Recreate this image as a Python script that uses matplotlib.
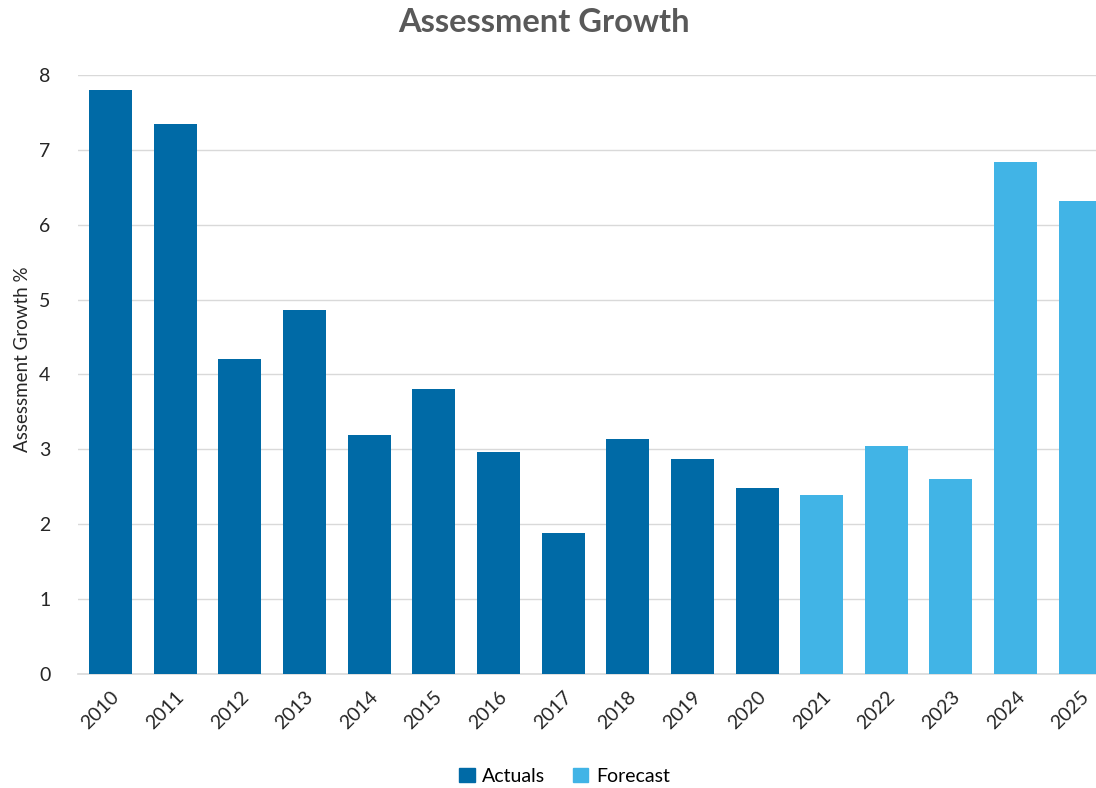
import numpy as np
import matplotlib.pyplot as plt
from matplotlib.patches import Patch

plt.rcParams['font.family'] = ['Lato', 'DejaVu Sans']

years = ['2010', '2011', '2012', '2013', '2014', '2015', '2016', '2017',
         '2018', '2019', '2020', '2021', '2022', '2023', '2024', '2025']
growth = [7.80, 7.34, 4.21, 4.86, 3.19, 3.80, 2.96, 1.88,
          3.14, 2.87, 2.48, 2.39, 3.04, 2.60, 6.84, 6.32]
kind = ['Actuals'] * 11 + ['Forecast'] * 5

col = {'Actuals': '#006AA6', 'Forecast': '#41B4E6'}

fig = plt.figure(figsize=(10.96, 7.88), dpi=100)
ax = fig.add_axes([0.0712, 0.1447, 0.944, 0.7601])

x = np.arange(len(years))
ax.bar(x, growth, width=0.665, color=[col[k] for k in kind], zorder=3)

ax.set_xlim(-0.5, len(years) - 0.5)
ax.set_ylim(0, 8)
ax.set_yticks(range(0, 9))
ax.set_xticks(x)
ax.set_xticklabels(years, rotation=45, ha='right', rotation_mode='anchor')
ax.tick_params(axis='both', length=0, labelsize=14, colors='#262626')
ax.tick_params(axis='x', pad=10)
ax.tick_params(axis='y', pad=20)
ax.grid(axis='y', color='#D9D9D9', linewidth=1, zorder=0)
for s in ['top', 'right', 'left']:
    ax.spines[s].set_visible(False)
ax.spines['bottom'].set_color('#D9D9D9')
ax.spines['bottom'].set_linewidth(1.2)

ax.set_ylabel('Assessment Growth %', fontsize=13.5, color='#262626')
ax.yaxis.set_label_coords(-0.045, 0.525)
fig.text(0.496, 0.972, 'Assessment Growth', ha='center', va='center',
         fontsize=23.5, fontweight='bold', color='#595959')

handles = [Patch(color=col['Actuals'], label='Actuals'),
           Patch(color=col['Forecast'], label='Forecast')]
fig.legend(handles=handles, loc='center', bbox_to_anchor=(0.515, 0.015),
           ncol=2, frameon=False, fontsize=14, handlelength=0.8,
           handleheight=0.8, handletextpad=0.4, columnspacing=1.4)

fig.savefig('out.png', dpi=100)
